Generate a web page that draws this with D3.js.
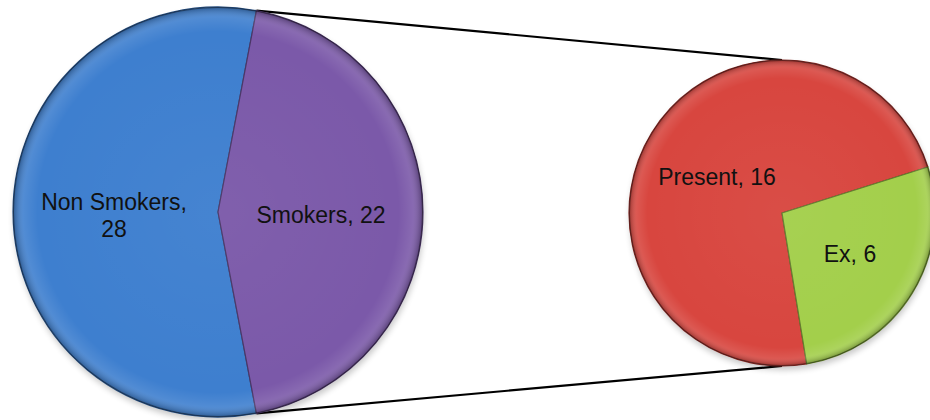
<!DOCTYPE html>
<html>
<head>
<meta charset="utf-8">
<script src="https://cdn.jsdelivr.net/npm/d3@7/dist/d3.min.js"></script>
<style>
  html, body { margin: 0; padding: 0; background: #fff; }
  svg { display: block; }
  text { font-family: "Liberation Sans", Arial, sans-serif; }
</style>
</head>
<body>
<svg id="chart" width="930" height="420"></svg>
<script>
// Smoking status: main pie, with the smokers split out into a second pie
const mainCategories = ["Non Smokers", "Smokers"];
const mainValues = [28, 22];
const mainColors = ["#3e7fcf", "#7b59a9"];

const subCategories = ["Present", "Ex"];
const subValues = [16, 6];
const subColors = ["#d8463f", "#a3cf4b"];

const W = 930, H = 420;
const svg = d3.select("#chart");
const defs = svg.append("defs");

// Bevel-like rim shading applied over every pie
const rim = defs.append("radialGradient").attr("id", "rim")
  .attr("cx", "50%").attr("cy", "50%").attr("r", "50%");
rim.append("stop").attr("offset", "0%").attr("stop-color", "#fff").attr("stop-opacity", 0.04);
rim.append("stop").attr("offset", "88%").attr("stop-color", "#fff").attr("stop-opacity", 0);
rim.append("stop").attr("offset", "95%").attr("stop-color", "#fff").attr("stop-opacity", 0.10);
rim.append("stop").attr("offset", "100%").attr("stop-color", "#000").attr("stop-opacity", 0.30);

const shadow = defs.append("filter").attr("id", "shadow")
  .attr("x", "-20%").attr("y", "-20%").attr("width", "140%").attr("height", "140%");
shadow.append("feGaussianBlur").attr("stdDeviation", 3);

// Layout of the two pies
const main = { cx: 218, cy: 212, r: 205 };
const sub = { cx: 782, cy: 213, r: 153 };

const total = d3.sum(mainValues);
const smokerSpan = mainValues[1] / total * 2 * Math.PI;
// Smokers slice is centred on the side facing the second pie
const mainStart = Math.PI / 2 + smokerSpan / 2;
const subStart = 170.7 * Math.PI / 180;

const mainPie = d3.pie().sort(null).value(d => d.value)
  .startAngle(mainStart).endAngle(mainStart + 2 * Math.PI);
const subPie = d3.pie().sort(null).value(d => d.value)
  .startAngle(subStart).endAngle(subStart + 2 * Math.PI);

const mainArcs = mainPie(mainCategories.map((c, i) => ({ name: c, value: mainValues[i], color: mainColors[i] })));
const subArcs = subPie(subCategories.map((c, i) => ({ name: c, value: subValues[i], color: subColors[i] })));

// Connector lines from the smokers slice edges to the top and bottom of the second pie
const smokersArc = mainArcs[1];
function edgePoint(p, a) {
  return [p.cx + p.r * Math.sin(a), p.cy - p.r * Math.cos(a)];
}
const pTop = edgePoint(main, smokersArc.startAngle);
const pBot = edgePoint(main, smokersArc.endAngle);
const lines = [
  [pTop, [sub.cx, sub.cy - sub.r]],
  [pBot, [sub.cx, sub.cy + sub.r]]
];
svg.append("g").selectAll("line").data(lines).join("line")
  .attr("x1", d => d[0][0]).attr("y1", d => d[0][1])
  .attr("x2", d => d[1][0]).attr("y2", d => d[1][1])
  .attr("stroke", "#000").attr("stroke-width", 2.2);

function drawPie(p, arcs, labelFn) {
  const g = svg.append("g").attr("transform", `translate(${p.cx},${p.cy})`);
  g.append("circle").attr("cx", 1).attr("cy", 4).attr("r", p.r)
    .attr("fill", "#000").attr("opacity", 0.22).attr("filter", "url(#shadow)");
  const arc = d3.arc().innerRadius(0).outerRadius(p.r);
  g.selectAll("path.slice").data(arcs).join("path")
    .attr("class", "slice")
    .attr("d", arc)
    .attr("fill", d => d.data.color)
    .attr("stroke", d => d3.color(d.data.color).darker(1.4))
    .attr("stroke-width", 1.2)
    .attr("stroke-linejoin", "round");
  g.append("circle").attr("r", p.r).attr("fill", "url(#rim)").attr("pointer-events", "none");
  g.append("circle").attr("r", p.r - 0.5).attr("fill", "none")
    .attr("stroke", "#000").attr("stroke-opacity", 0.25).attr("stroke-width", 1);
  labelFn(g);
}

function label(g, x, y, lines) {
  const t = g.append("text").attr("text-anchor", "middle")
    .attr("font-size", 23).attr("fill", "#111");
  lines.forEach((s, i) => {
    t.append("tspan").attr("x", x).attr("y", y + i * 27).text(s);
  });
}

drawPie(main, mainArcs, g => {
  const [a, b] = mainArcs;
  label(g, 114 - main.cx, 210 - main.cy, [`${a.data.name},`, `${a.data.value}`]);
  label(g, 321 - main.cx, 223 - main.cy, [`${b.data.name}, ${b.data.value}`]);
});

drawPie(sub, subArcs, g => {
  const [a, b] = subArcs;
  label(g, 717 - sub.cx, 185 - sub.cy, [`${a.data.name}, ${a.data.value}`]);
  label(g, 850 - sub.cx, 262 - sub.cy, [`${b.data.name}, ${b.data.value}`]);
});
</script>
</body>
</html>
